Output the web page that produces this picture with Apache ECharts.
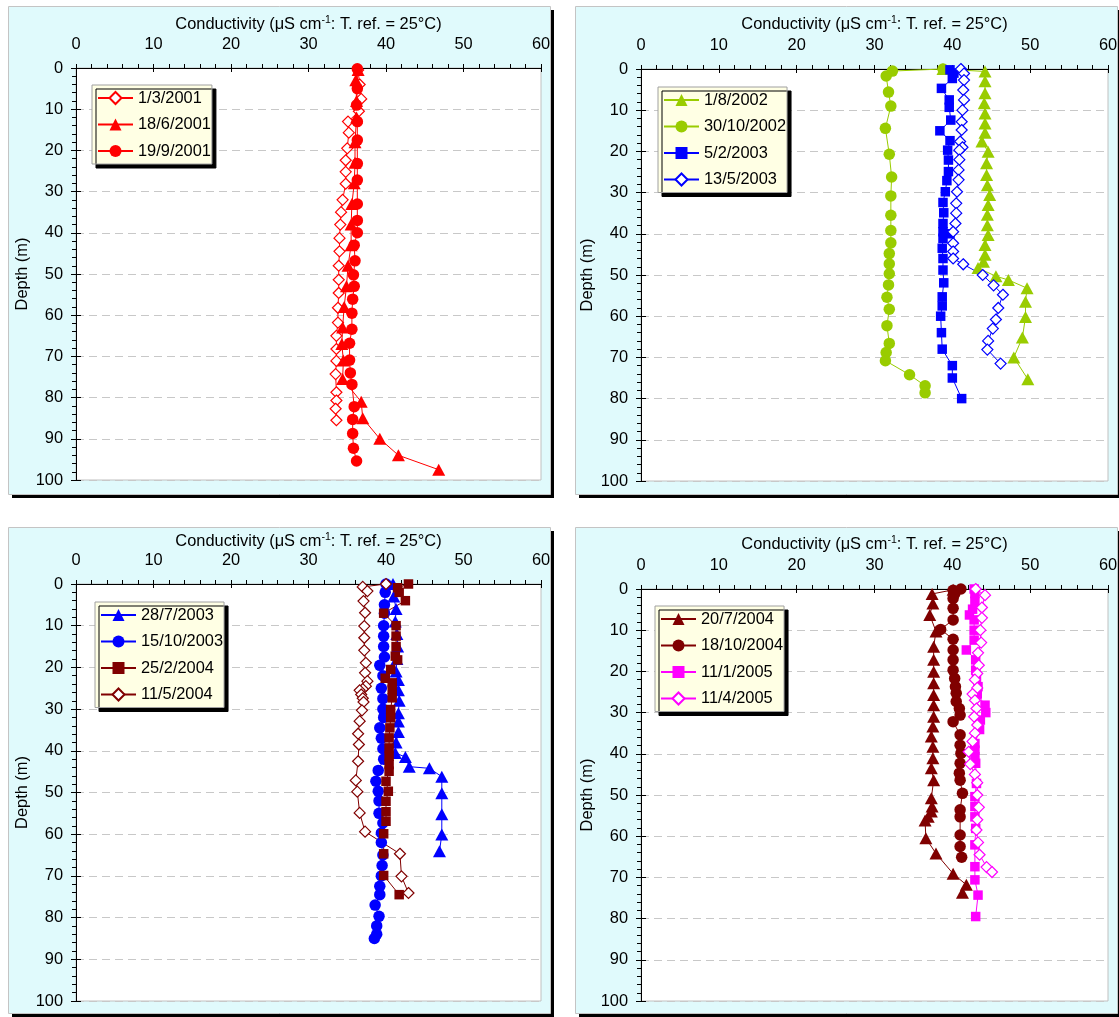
<!DOCTYPE html>
<html>
<head>
<meta charset="utf-8">
<script src="https://cdn.jsdelivr.net/npm/echarts@6/dist/echarts.min.js"></script>
<style>
html,body{margin:0;padding:0;background:#ffffff;}
#chart{width:1119px;height:1017px;}
</style>
</head>
<body>
<div id="chart"></div>
<script>
// ---------- DATA : [conductivity (µS/cm), depth (m)] ----------
const xTicks = [0, 10, 20, 30, 40, 50, 60];
const yTicks = [0, 10, 20, 30, 40, 50, 60, 70, 80, 90, 100];

// Panel 1
const d_1_3_2001 = [[36.4,0.5],[36.6,4],[36.8,7.5],[36.5,10.5],[35.1,13],[35.2,15.7],[35.0,19.5],[34.8,22.4],[34.8,25.2],[34.8,28.1],[34.4,32],[34.2,35],[34.1,38],[34.0,41.3],[34.0,44.5],[33.9,48],[33.9,51.4],[33.9,54.6],[33.8,58.2],[33.8,61.8],[33.6,65],[33.6,68.2],[33.6,71.1],[33.5,74.3],[33.6,78.7],[33.6,80.7],[33.5,82.7],[33.6,85.5]];
const d_18_6_2001 = [[36.4,0.5],[36.1,3],[36.2,8],[36.2,12],[36.0,18],[36.0,23],[35.9,28],[35.6,33],[35.5,38],[35.5,43],[35.1,48],[34.9,53],[34.6,58],[34.4,63],[34.3,67],[34.5,71],[34.4,75.5],[36.8,81],[37.0,85],[39.2,90],[41.6,94],[46.8,97.5]];
const d_19_9_2001 = [[36.3,0.2],[36.3,5],[36.2,9],[36.3,13],[36.3,17.5],[36.3,23.2],[36.3,27.2],[36.3,33],[36.3,37],[36.3,40],[35.9,43],[36.0,46.8],[35.8,50.2],[35.9,53],[35.7,56.1],[35.6,59.5],[35.6,63.4],[35.3,66.8],[35.3,70.9],[35.4,74],[35.6,76.8],[35.9,82.2],[35.7,85.3],[35.7,88.7],[35.8,92.3],[36.2,95.4]];

// Panel 2
const d_1_8_2002 = [[38.8,0],[44.2,0.6],[44.2,3],[44.2,5.9],[44.1,8.3],[44.2,10.8],[44.2,13.2],[44.2,15.5],[43.8,17.6],[44.6,20.1],[44.4,22.9],[44.4,25.7],[44.5,28.2],[44.8,30.6],[44.6,33],[44.5,35.4],[44.5,37.9],[44.6,40.3],[44.2,42.7],[44.2,45.1],[44.0,46.8],[43.3,48.3],[45.6,50.3],[47.2,51.2],[49.6,53.2],[49.4,56.5],[49.4,60.2],[49.0,65.2],[47.9,70],[49.7,75.3]];
const d_30_10_2002 = [[38.8,0],[32.3,0.5],[31.5,1.7],[31.8,5.6],[32.1,9],[31.4,14.4],[31.9,20.7],[32.2,26.2],[32.1,30.8],[32.1,35.5],[32.1,39.2],[32.1,42.2],[31.9,44.8],[31.9,47.3],[31.9,49.7],[31.8,52.4],[31.6,55.4],[31.9,58.3],[31.6,62.3],[31.9,66.6],[31.5,68.8],[31.4,70.8],[34.5,74.2],[36.5,76.9],[36.5,78.6]];
const d_5_2_2003 = [[39.7,0.2],[40.2,1],[40.0,2.3],[38.6,4.7],[39.6,7.5],[39.6,9.3],[39.8,12.4],[38.4,15],[39.7,17.4],[39.4,19.7],[39.5,22.1],[39.5,24.9],[39.3,27.1],[39.1,29.8],[38.8,32.4],[38.9,34.9],[38.8,37.5],[38.8,39.5],[39.7,40],[38.8,41.1],[38.7,43.5],[38.8,46],[38.8,48.8],[38.9,51.9],[38.7,55.3],[38.7,57.5],[38.5,60],[38.6,64],[38.7,68],[40.0,72],[40.0,75],[41.2,80]];
const d_13_5_2003 = [[41.1,0],[41.5,1.1],[41.5,2.7],[41.4,5.1],[41.5,7.5],[41.3,10],[41.2,12.8],[41.2,14.8],[41.0,17.6],[41.3,19],[40.9,19.7],[40.9,22],[40.8,24.5],[40.8,26.9],[40.6,29.8],[40.5,32.6],[40.5,35],[40.4,37.5],[40.1,39.5],[40.1,42.3],[40.1,44.3],[40.1,46],[41.4,47.4],[43.9,50],[45.3,52.5],[46.5,54.8],[45.9,58],[45.6,60.8],[45.2,63],[44.6,66],[44.5,68.1],[46.2,71.5]];

// Panel 3
const d_28_7_2003 = [[40.9,0],[41.0,3],[41.3,6],[41.2,9],[41.4,12],[41.5,15],[41.4,18],[41.3,21],[41.6,23],[41.6,25.5],[41.7,28],[41.6,31],[41.6,33],[41.6,35.5],[41.3,38],[41.2,40.5],[42.5,41.5],[43.0,43.8],[45.6,44.2],[47.2,46.2],[47.2,50.2],[47.2,55.2],[47.2,60.1],[46.9,64.1]];
const d_15_10_2003 = [[40.0,0],[39.9,2],[39.8,5],[39.8,7],[39.7,10],[39.7,12.5],[39.7,15],[39.8,17.5],[39.2,19.5],[39.6,22],[39.4,25],[39.6,27.5],[39.6,30],[39.7,32],[39.2,34.5],[39.4,37],[39.6,39.5],[39.7,42],[39.0,44.7],[38.7,47.3],[39.0,49.7],[39.1,52],[39.1,55],[39.6,57.3],[39.4,59.7],[39.4,62],[39.6,65],[39.5,67.5],[39.4,70],[39.2,72.5],[39.2,74.5],[38.6,77],[39.1,79.7],[38.8,82],[38.8,84],[38.5,85]];
const d_25_2_2004 = [[42.9,0],[41.5,0.9],[41.7,2],[42.5,4],[39.7,7],[41.3,10],[41.3,12.5],[41.3,15],[41.2,17.3],[41.5,18.2],[40.6,20.5],[39.9,22.6],[40.8,23.7],[40.8,25.3],[40.8,27.3],[40.6,30.1],[40.6,32.1],[40.5,34.5],[40.4,36.9],[40.4,39.3],[40.4,41.3],[40.4,43.3],[40.4,44.9],[40.0,47.3],[40.3,49.7],[40.0,52.1],[40.0,54.6],[40.0,56.9],[39.7,59.9],[39.7,64.7],[39.7,69.9],[41.7,74.5]];
const d_11_5_2004 = [[40.0,0],[37.0,0.7],[37.6,1.7],[37.1,4.1],[37.3,6.9],[37.2,10.1],[37.2,12.9],[37.2,15.9],[37.4,18.9],[37.3,21.3],[37.6,23.3],[37.4,24.5],[37.0,25.2],[36.6,25.5],[36.8,26.5],[37.0,27.4],[37.1,28.3],[36.9,30.3],[36.6,32.9],[36.4,35.9],[36.5,38.5],[36.4,42.5],[36.1,47.1],[36.3,49.8],[36.6,54.9],[37.3,59.4],[41.8,64.7],[42.0,70.1],[42.9,74.1]];

// Panel 4
const d_20_7_2004 = [[40.1,0.2],[37.4,1.2],[37.5,3.5],[37.1,6.3],[37.9,10.3],[37.6,14],[37.6,17.2],[37.6,20.1],[37.6,22.9],[37.6,25.7],[37.6,28.2],[37.6,31],[37.5,33.4],[37.3,35.8],[37.5,38.3],[37.5,41.1],[37.3,43.5],[37.6,46.4],[37.3,50.8],[37.4,52.8],[37.3,54],[36.9,55.3],[36.5,56.2],[36.6,60.5],[37.9,64.2],[40.1,69.1],[41.8,71.8],[41.3,73.7]];
const d_18_10_2004 = [[41.1,0],[40.1,0.3],[40.3,1.2],[40.1,2.3],[40.1,4.7],[40.1,7.5],[38.5,9.8],[40.1,12.2],[40.1,14.8],[40.1,17.2],[40.1,19.7],[40.3,21.7],[40.4,23.7],[40.5,25.3],[40.5,27.3],[40.9,29],[41.0,30.6],[40.1,32.2],[41.0,35.4],[41.0,37.9],[41.1,39.9],[41.0,42.3],[40.9,44.7],[41.0,46.4],[41.3,49.6],[41.0,53.6],[41.0,55.3],[41.0,59.7],[41.0,62.5],[41.2,65.1]];
const d_11_1_2005 = [[42.8,0],[42.9,1.1],[42.9,3],[42.6,4.9],[42.2,6.3],[42.8,7.5],[42.8,10],[42.8,12.4],[41.8,14.8],[43.0,17.2],[43.0,19.7],[43.1,21.5],[43.3,23.7],[43.2,25.5],[44.2,28.2],[44.3,30],[43.6,31.8],[43.5,34.1],[42.9,37.5],[42.9,39.1],[42.9,40.7],[43.0,42.3],[43.1,47.2],[42.9,50.4],[42.9,52.8],[42.9,55.3],[43.0,58.1],[42.9,62.1],[42.9,67.4],[42.9,70.6],[43.3,74.3],[43.0,79.5]];
const d_11_4_2005 = [[43.0,0],[44.2,1.5],[43.8,4.5],[43.8,7],[43.6,10],[43.7,13],[43.3,15.5],[43.4,18.5],[43.2,20.5],[42.9,22],[43.2,24],[42.6,25.5],[42.9,27],[43.1,29],[42.8,31],[43.2,33],[42.9,35],[42.6,37],[42.1,39.5],[42.3,42.5],[42.9,45],[43.2,47],[43.2,50],[43.4,53],[43.2,56],[43.1,58.5],[43.3,61.5],[43.5,64.5],[44.4,67.5],[45.1,68.7]];

// ---------- STYLE / LAYOUT ----------
const FONT = '"Liberation Sans", Arial, sans-serif';
const FS = 16.4;
const RED = '#ff0000', GREEN = '#99cc00', BLUE = '#0000ff', MAROON = '#800000', MAGENTA = '#ff00ff';
const CYAN = '#e0fafc';

const panels = [
  { box:[8,6,542,488], grid:{left:76, top:68, width:465, height:412}, nameGap:34,
    legend:{left:92, top:85},
    series:[
      {name:'1/3/2001', data:d_1_3_2001, color:RED, symbol:'diamond', open:true},
      {name:'18/6/2001', data:d_18_6_2001, color:RED, symbol:'triangle'},
      {name:'19/9/2001', data:d_19_9_2001, color:RED, symbol:'circle'}
    ]},
  { box:[575,6,542,488], grid:{left:641, top:69, width:467, height:412}, nameGap:35,
    legend:{left:658, top:87},
    series:[
      {name:'1/8/2002', data:d_1_8_2002, color:GREEN, symbol:'triangle'},
      {name:'30/10/2002', data:d_30_10_2002, color:GREEN, symbol:'circle'},
      {name:'5/2/2003', data:d_5_2_2003, color:BLUE, symbol:'rect'},
      {name:'13/5/2003', data:d_13_5_2003, color:BLUE, symbol:'diamond', open:true}
    ]},
  { box:[8,527,542,486], grid:{left:76, top:584, width:465, height:417}, nameGap:30,
    legend:{left:95, top:602},
    series:[
      {name:'28/7/2003', data:d_28_7_2003, color:BLUE, symbol:'triangle'},
      {name:'15/10/2003', data:d_15_10_2003, color:BLUE, symbol:'circle'},
      {name:'25/2/2004', data:d_25_2_2004, color:MAROON, symbol:'rect'},
      {name:'11/5/2004', data:d_11_5_2004, color:MAROON, symbol:'diamond', open:true}
    ]},
  { box:[575,527,542,486], grid:{left:641, top:589, width:467, height:412}, nameGap:35,
    legend:{left:655, top:606},
    series:[
      {name:'20/7/2004', data:d_20_7_2004, color:MAROON, symbol:'triangle'},
      {name:'18/10/2004', data:d_18_10_2004, color:MAROON, symbol:'circle'},
      {name:'11/1/2005', data:d_11_1_2005, color:MAGENTA, symbol:'rect'},
      {name:'11/4/2005', data:d_11_4_2005, color:MAGENTA, symbol:'diamond', open:true}
    ]}
];

const symSize = { diamond:11, triangle:[13,12], circle:11.5, rect:9.5 };

const grids = [], xAxes = [], yAxes = [], series = [], legends = [], graphics = [];

panels.forEach((p, i) => {
  const [bx, by, bw, bh] = p.box;
  graphics.push({ type:'rect', z:-20, silent:true, shape:{x:bx+4, y:by+4, width:bw, height:bh}, style:{fill:'#000000'} });
  graphics.push({ type:'rect', z:-19, silent:true, shape:{x:bx+0.5, y:by+0.5, width:bw, height:bh}, style:{fill:CYAN, stroke:'#c4c4c4', lineWidth:1} });

  grids.push(Object.assign({ show:true, backgroundColor:'#ffffff', borderColor:'#c0c0c0', borderWidth:1, containLabel:false, outerBoundsMode:'none' }, p.grid));

  // main x axis (top)
  xAxes.push({
    type:'value', gridIndex:i, position:'top', min:xTicks[0], max:xTicks[xTicks.length-1], interval:10,
    name:'Conductivity (μS cm{sup|-1}: T. ref. = 25°C)', nameLocation:'middle', nameGap:p.nameGap,
    nameTextStyle:{ fontFamily:FONT, fontSize:FS, color:'#000', lineHeight:19,
      rich:{ sup:{ fontFamily:FONT, fontSize:10.5, color:'#000', verticalAlign:'top', lineHeight:19 } } },
    axisLine:{ show:true, onZero:false, lineStyle:{ color:'#000', width:1 } },
    axisTick:{ show:true, inside:false, length:4, lineStyle:{ color:'#000' } },
    minorTick:{ show:true, splitNumber:5, length:4, lineStyle:{ color:'#000' } },
    axisLabel:{ show:true, margin:16, fontFamily:FONT, fontSize:FS, color:'#000', showMinLabel:true, showMaxLabel:true },
    splitLine:{ show:false }, minorSplitLine:{ show:false }
  });
  // overlay x axis: inner half of crossing major ticks
  xAxes.push({
    type:'value', gridIndex:i, position:'top', min:0, max:60, interval:10,
    axisLine:{ show:false }, axisLabel:{ show:false },
    axisTick:{ show:true, inside:true, length:4, lineStyle:{ color:'#000' } },
    splitLine:{ show:false }
  });
  // main y axis (depth, inverted)
  yAxes.push({
    type:'value', gridIndex:i, position:'left', inverse:true, min:yTicks[0], max:yTicks[yTicks.length-1], interval:10,
    name:'Depth (m)', nameLocation:'middle', nameGap:46, nameRotate:90,
    nameTextStyle:{ fontFamily:FONT, fontSize:FS, color:'#000' },
    axisLine:{ show:true, onZero:false, lineStyle:{ color:'#000', width:1 } },
    axisTick:{ show:true, inside:false, length:5, lineStyle:{ color:'#000' } },
    minorTick:{ show:true, splitNumber:5, length:4, lineStyle:{ color:'#000' } },
    axisLabel:{ show:true, margin:13, fontFamily:FONT, fontSize:FS, color:'#000', showMinLabel:true, showMaxLabel:true },
    splitLine:{ show:true, lineStyle:{ color:'#c8c8c8', width:1, type:[8,5] } },
    minorSplitLine:{ show:false }
  });
  yAxes.push({
    type:'value', gridIndex:i, position:'left', inverse:true, min:0, max:100, interval:10,
    axisLine:{ show:false }, axisLabel:{ show:false },
    axisTick:{ show:true, inside:true, length:5, lineStyle:{ color:'#000' } },
    splitLine:{ show:false }
  });

  p.series.forEach(s => {
    series.push({
      type:'line', name:s.name, xAxisIndex:i*2, yAxisIndex:i*2, data:s.data,
      symbol:s.symbol, symbolSize:symSize[s.symbol], showAllSymbol:true, showSymbol:true,
      lineStyle:{ color:s.color, width:1 },
      itemStyle: s.open ? { color:'#ffffff', borderColor:s.color, borderWidth:1.2 } : { color:s.color, borderColor:s.color, borderWidth:0 },
      emphasis:{ disabled:true }, animation:false, clip:false
    });
  });

  legends.push({
    data:p.series.map(s => s.name), orient:'vertical', left:p.legend.left, top:p.legend.top,
    itemWidth:35, itemHeight:15, itemGap:10.5, padding:[5, 1, 5, 5],
    backgroundColor:'#ffffe4', borderColor:'#a0a0a0', borderWidth:1,
    shadowColor:'#000000', shadowOffsetX:4, shadowOffsetY:4, shadowBlur:0,
    textStyle:{ fontFamily:FONT, fontSize:FS, color:'#000' },
    selectedMode:false, inactiveColor:'#000'
  });
});

const chart = echarts.init(document.getElementById('chart'), null, { renderer:'canvas' });
chart.setOption({
  animation:false,
  backgroundColor:'#ffffff',
  graphic:{ elements:graphics },
  grid:grids, xAxis:xAxes, yAxis:yAxes, legend:legends, series:series
});
</script>
</body>
</html>
